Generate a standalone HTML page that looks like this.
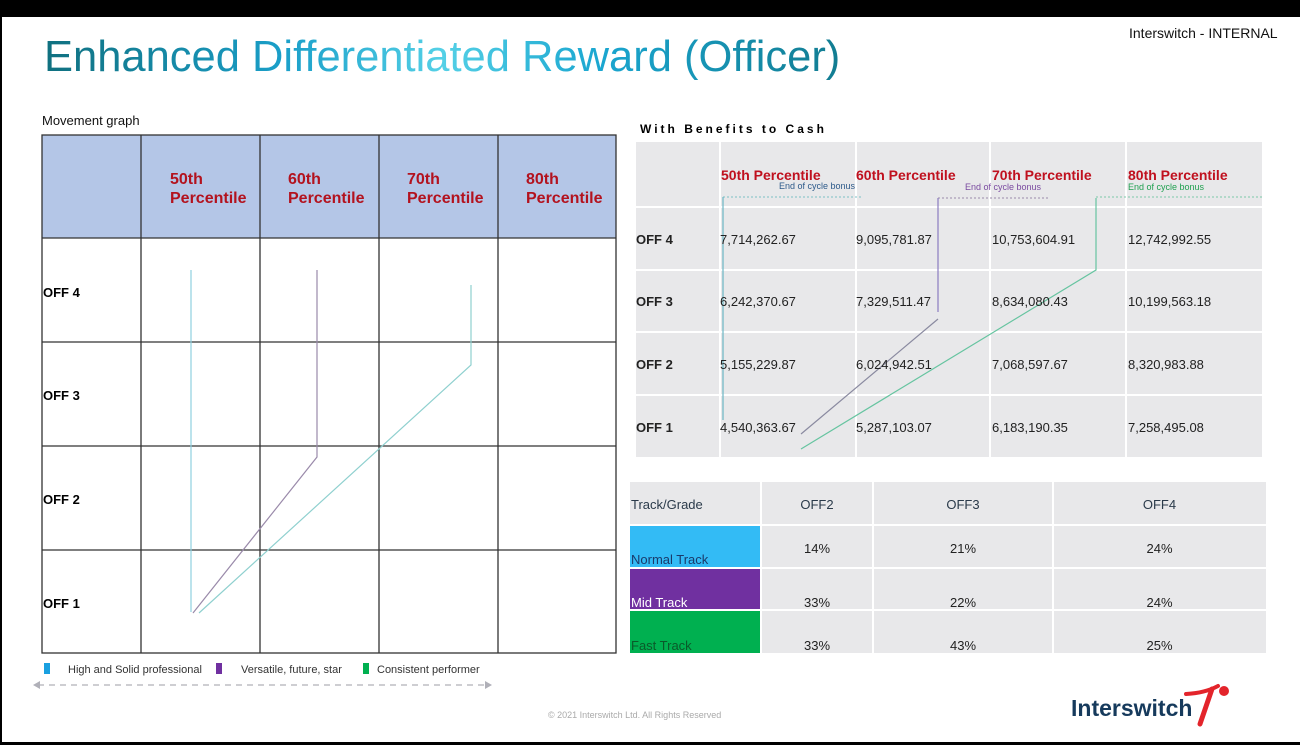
<!DOCTYPE html>
<html><head><meta charset="utf-8"><style>
body{margin:0;width:1300px;height:745px;overflow:hidden;background:#000;font-family:"Liberation Sans",sans-serif;}
#slide{position:absolute;left:2px;top:17px;width:1298px;height:725px;background:#fff;}
.a{position:absolute;}
.t{position:absolute;white-space:nowrap;}
.hdr{color:#b3121e;font-weight:bold;font-size:16px;line-height:19px;}
.rt{font-family:"Liberation Sans",sans-serif;font-size:13px;color:#222;}
</style></head><body>
<div id="slide"></div>
<div class="t" style="left:1129px;top:25px;font-size:14px;color:#111;">Interswitch - INTERNAL</div>
<div class="t" style="left:44px;top:33px;font-size:43.5px;background:linear-gradient(90deg,#10707f 0%,#1a9fc9 30%,#54d0e6 50%,#1aa6d0 70%,#127c91 100%);-webkit-background-clip:text;background-clip:text;color:transparent;">Enhanced Differentiated Reward (Officer)</div>
<div class="t" style="left:42px;top:113px;font-size:13px;color:#111;">Movement graph</div>
<svg class="a" style="left:0;top:0" width="1300" height="745">
<rect x="42" y="135" width="574" height="103" fill="#b4c6e7"/>
<g stroke="#333" stroke-width="1.3" fill="none">
<rect x="42" y="135" width="574" height="518"/>
<line x1="141" y1="135" x2="141" y2="653"/><line x1="260" y1="135" x2="260" y2="653"/>
<line x1="379" y1="135" x2="379" y2="653"/><line x1="498" y1="135" x2="498" y2="653"/>
<line x1="42" y1="238" x2="616" y2="238"/><line x1="42" y1="342" x2="616" y2="342"/>
<line x1="42" y1="446" x2="616" y2="446"/><line x1="42" y1="550" x2="616" y2="550"/>
</g>
<polyline points="191,270 191,612" fill="none" stroke="#8fd0e0" stroke-width="1.2"/>
<polyline points="317,270 317,457 193,613" fill="none" stroke="#9a8aaa" stroke-width="1.2"/>
<polyline points="471,285 471,365 199,613" fill="none" stroke="#8fd0cf" stroke-width="1.2"/>
<rect x="636" y="142" width="626" height="315" fill="#e8e8ea"/>
<g stroke="#fff" stroke-width="2">
<line x1="720" y1="142" x2="720" y2="457"/><line x1="856" y1="142" x2="856" y2="457"/><line x1="990" y1="142" x2="990" y2="457"/><line x1="1126" y1="142" x2="1126" y2="457"/>
<line x1="636" y1="207" x2="1262" y2="207"/><line x1="636" y1="270" x2="1262" y2="270"/><line x1="636" y1="332" x2="1262" y2="332"/><line x1="636" y1="395" x2="1262" y2="395"/>
</g>
<g stroke-dasharray="2,2" stroke-width="1" fill="none">
<line x1="723" y1="197" x2="862" y2="197" stroke="#7bbfc4"/>
<line x1="938" y1="198" x2="1050" y2="198" stroke="#9a8aaa"/>
<line x1="1096" y1="197" x2="1262" y2="197" stroke="#7bc8a8"/>
</g>
<polyline points="723,197 723,420" fill="none" stroke="#6cb6c4" stroke-width="1.2"/>
<polyline points="938,198 938,312" fill="none" stroke="#8a7cc0" stroke-width="1.2"/>
<line x1="938" y1="319" x2="801" y2="434" stroke="#8a8aa0" stroke-width="1.2"/>
<polyline points="1096,198 1096,270 801,449" fill="none" stroke="#66c4a0" stroke-width="1.2"/>
<rect x="630" y="482" width="636" height="171" fill="#e8e8ea"/>
<rect x="630" y="525" width="131" height="43" fill="#33bbf5"/>
<rect x="630" y="568" width="131" height="42" fill="#7030a0"/>
<rect x="630" y="610" width="131" height="43" fill="#00b050"/>
<g stroke="#fff" stroke-width="2">
<line x1="761" y1="482" x2="761" y2="653"/><line x1="873" y1="482" x2="873" y2="653"/><line x1="1053" y1="482" x2="1053" y2="653"/>
<line x1="630" y1="525" x2="1266" y2="525"/><line x1="630" y1="568" x2="1266" y2="568"/><line x1="630" y1="610" x2="1266" y2="610"/>
</g>
<line x1="38" y1="685" x2="488" y2="685" stroke="#b0b0b8" stroke-width="1.3" stroke-dasharray="6,5"/>
<polygon points="33,685 40,681 40,689" fill="#b0b0b8"/><polygon points="492,685 485,681 485,689" fill="#b0b0b8"/>
<rect x="44" y="663" width="6" height="11" fill="#1aa0e0"/>
<rect x="216" y="663" width="6" height="11" fill="#7030a0"/>
<rect x="363" y="663" width="6" height="11" fill="#00b050"/>
<line x1="1212" y1="689" x2="1200" y2="724" stroke="#e3242b" stroke-width="5" stroke-linecap="round"/>
<path d="M1186 694 Q1205 693 1218 686" stroke="#e3242b" stroke-width="4" fill="none" stroke-linecap="round"/>
<circle cx="1224" cy="691" r="5" fill="#e3242b"/>
</svg>
<div class="t hdr" style="left:170px;top:170px;">50th<br>Percentile</div>
<div class="t hdr" style="left:288px;top:170px;">60th<br>Percentile</div>
<div class="t hdr" style="left:407px;top:170px;">70th<br>Percentile</div>
<div class="t hdr" style="left:526px;top:170px;">80th<br>Percentile</div>
<div class="t" style="left:43px;top:285px;font-weight:bold;font-size:13px;">OFF 4</div>
<div class="t" style="left:43px;top:388px;font-weight:bold;font-size:13px;">OFF 3</div>
<div class="t" style="left:43px;top:492px;font-weight:bold;font-size:13px;">OFF 2</div>
<div class="t" style="left:43px;top:596px;font-weight:bold;font-size:13px;">OFF 1</div>
<div class="t" style="left:68px;top:664px;font-size:11px;color:#333;">High and Solid professional</div>
<div class="t" style="left:241px;top:664px;font-size:11px;color:#333;">Versatile, future, star</div>
<div class="t" style="left:377px;top:664px;font-size:11px;color:#333;">Consistent performer</div>
<div class="t" style="left:640px;top:122px;font-size:12px;font-weight:bold;letter-spacing:3px;">With Benefits to Cash</div>
<div class="t" style="left:721px;top:167px;color:#c0101e;font-weight:bold;font-size:14px;">50th Percentile</div>
<div class="t" style="left:856px;top:167px;color:#c0101e;font-weight:bold;font-size:14px;">60th Percentile</div>
<div class="t" style="left:992px;top:167px;color:#c0101e;font-weight:bold;font-size:14px;">70th Percentile</div>
<div class="t" style="left:1128px;top:167px;color:#c0101e;font-weight:bold;font-size:14px;">80th Percentile</div>
<div class="t" style="left:779px;top:181px;font-size:9px;color:#2d5a8a;">End of cycle bonus</div>
<div class="t" style="left:965px;top:182px;font-size:9px;color:#7a4aa0;">End of cycle bonus</div>
<div class="t" style="left:1128px;top:182px;font-size:9px;color:#20a050;">End of cycle bonus</div>
<div class="t rt" style="left:636px;top:232px;font-weight:bold;">OFF 4</div>
<div class="t rt" style="left:720px;top:232px;">7,714,262.67</div><div class="t rt" style="left:856px;top:232px;">9,095,781.87</div><div class="t rt" style="left:992px;top:232px;">10,753,604.91</div><div class="t rt" style="left:1128px;top:232px;">12,742,992.55</div>
<div class="t rt" style="left:636px;top:294px;font-weight:bold;">OFF 3</div>
<div class="t rt" style="left:720px;top:294px;">6,242,370.67</div><div class="t rt" style="left:856px;top:294px;">7,329,511.47</div><div class="t rt" style="left:992px;top:294px;">8,634,080.43</div><div class="t rt" style="left:1128px;top:294px;">10,199,563.18</div>
<div class="t rt" style="left:636px;top:357px;font-weight:bold;">OFF 2</div>
<div class="t rt" style="left:720px;top:357px;">5,155,229.87</div><div class="t rt" style="left:856px;top:357px;">6,024,942.51</div><div class="t rt" style="left:992px;top:357px;">7,068,597.67</div><div class="t rt" style="left:1128px;top:357px;">8,320,983.88</div>
<div class="t rt" style="left:636px;top:420px;font-weight:bold;">OFF 1</div>
<div class="t rt" style="left:720px;top:420px;">4,540,363.67</div><div class="t rt" style="left:856px;top:420px;">5,287,103.07</div><div class="t rt" style="left:992px;top:420px;">6,183,190.35</div><div class="t rt" style="left:1128px;top:420px;">7,258,495.08</div>
<div class="t rt" style="left:631px;top:497px;color:#2a3a4a;">Track/Grade</div>
<div class="t rt" style="left:761px;width:112px;text-align:center;top:497px;color:#2a3a4a;">OFF2</div>
<div class="t rt" style="left:873px;width:180px;text-align:center;top:497px;color:#2a3a4a;">OFF3</div>
<div class="t rt" style="left:1053px;width:213px;text-align:center;top:497px;color:#2a3a4a;">OFF4</div>
<div class="t rt" style="left:631px;top:552px;color:#1a3a6a;">Normal Track</div>
<div class="t rt" style="left:631px;top:595px;color:#fff;">Mid Track</div>
<div class="t rt" style="left:631px;top:638px;color:#0a5a2a;">Fast Track</div>
<div class="t rt" style="left:761px;width:112px;text-align:center;top:541px;">14%</div>
<div class="t rt" style="left:873px;width:180px;text-align:center;top:541px;">21%</div>
<div class="t rt" style="left:1053px;width:213px;text-align:center;top:541px;">24%</div>
<div class="t rt" style="left:761px;width:112px;text-align:center;top:595px;">33%</div>
<div class="t rt" style="left:873px;width:180px;text-align:center;top:595px;">22%</div>
<div class="t rt" style="left:1053px;width:213px;text-align:center;top:595px;">24%</div>
<div class="t rt" style="left:761px;width:112px;text-align:center;top:638px;">33%</div>
<div class="t rt" style="left:873px;width:180px;text-align:center;top:638px;">43%</div>
<div class="t rt" style="left:1053px;width:213px;text-align:center;top:638px;">25%</div>
<div class="t" style="left:548px;top:710px;font-size:9px;color:#aaa;">© 2021 Interswitch Ltd. All Rights Reserved</div>
<div class="t" style="left:1071px;top:695px;font-size:23px;font-weight:bold;color:#163a5c;">Interswitch</div>
</body></html>
